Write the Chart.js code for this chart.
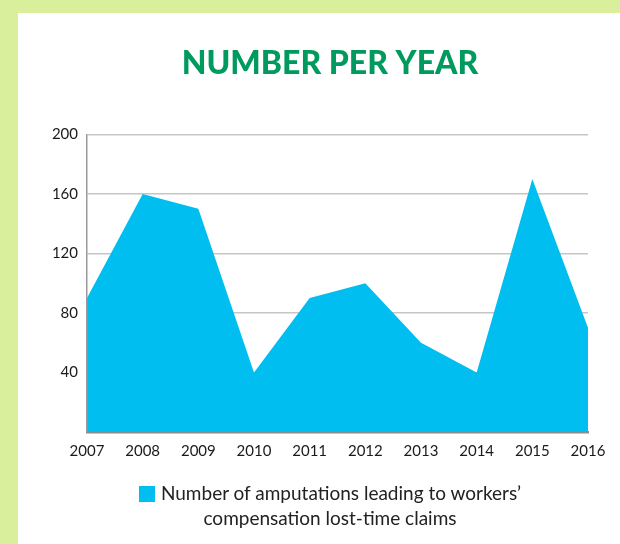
<!DOCTYPE html>
<html>
<head>
<meta charset="utf-8">
<script src="https://cdn.jsdelivr.net/npm/chart.js@4/dist/chart.umd.min.js"></script>
<style>
  html, body { margin: 0; padding: 0; }
  body { width: 620px; height: 544px; background: #d9ef9b; position: relative; overflow: hidden; }
  #panel { position: absolute; left: 18px; top: 13px; width: 602px; height: 531px; background: #ffffff; }
  #c { position: absolute; left: 0; top: 0; }
  #legend { position: absolute; left: 40px; top: 480px; width: 580px; text-align: center;
            font-family: Lato, "Open Sans", sans-serif; font-size: 19px; line-height: 25px; color: #222; }
  #legend .box { display: inline-block; width: 16px; height: 16px; background: #00bff0; vertical-align: -2px; margin-right: 6px; }
</style>
</head>
<body>
<div id="panel"></div>
<canvas id="c" width="620" height="544"></canvas>
<div id="legend"></div>
<script>
const years = ['2007','2008','2009','2010','2011','2012','2013','2014','2015','2016'];
const amputations = [90, 160, 150, 40, 90, 100, 60, 40, 170, 70];
const yTicks = [40, 80, 120, 160, 200];
const titleText = 'NUMBER PER YEAR';
const seriesLabel = ['Number of amputations leading to workers\u2019', 'compensation lost-time claims'];
const fillColor = '#00bff0';

const lg = document.getElementById('legend');
lg.innerHTML = '<span class="box"></span>' + seriesLabel[0] + '<br>' + seriesLabel[1];

new Chart(document.getElementById('c'), {
  type: 'line',
  data: {
    labels: years,
    datasets: [{
      label: seriesLabel.join(' '),
      data: amputations,
      fill: 'origin',
      backgroundColor: fillColor,
      borderColor: fillColor,
      borderWidth: 0,
      pointRadius: 0,
      tension: 0
    }]
  },
  options: {
    responsive: false,
    animation: false,
    layout: { padding: { left: 40, right: 0, top: 0, bottom: 0 } },
    plugins: {
      legend: { display: false },
      tooltip: { enabled: false },
      title: {
        display: true,
        text: titleText,
        color: '#009a5e',
        font: { family: 'Lato', size: 32, weight: '900' },
        padding: { top: 44, bottom: 52 }
      }
    },
    scales: {
      x: {
        grid: { display: false, drawTicks: false },
        border: { display: true, color: '#8c8c8c', width: 2.5, z: 1 },
        ticks: { color: '#1a1a1a', font: { family: 'Lato', size: 15 }, padding: 10, maxRotation: 0, autoSkip: false },
        afterFit: (s) => { s.height = 112; s.paddingRight = 32; }
      },
      y: {
        min: 0, max: 200,
        afterBuildTicks: (s) => { s.ticks = [0].concat(yTicks).map(v => ({ value: v })); },
        grid: { color: '#c6c6c6', lineWidth: 1.5, drawTicks: false },
        border: { display: true, color: '#9a9a9a', width: 1.5, z: 1 },
        ticks: {
          color: '#1a1a1a', font: { family: 'Lato', size: 15 }, padding: 9,
          callback: (v) => (v === 0 ? '' : v)
        },
        afterFit: (s) => { s.width = 47; }
      }
    }
  }
});
</script>
</body>
</html>
